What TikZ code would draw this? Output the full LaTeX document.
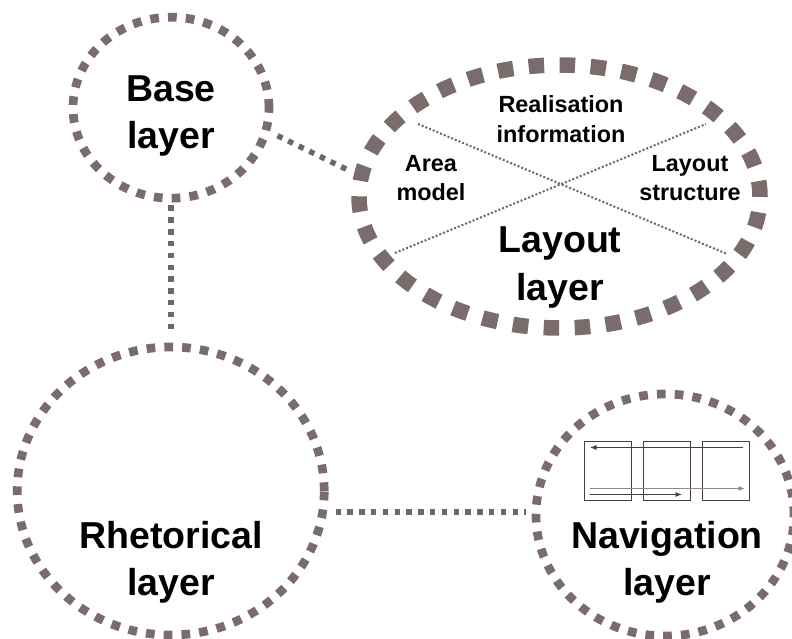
\documentclass[tikz,border=0pt]{standalone}
\usepackage{fontspec}
\setmainfont{Liberation Sans}
\usetikzlibrary{shapes.geometric,arrows.meta}
\definecolor{ringcol}{HTML}{7A6C6C}
\definecolor{linkcol}{HTML}{696969}
\definecolor{pagecol}{HTML}{4A3C3C}
\tikzset{
 x=1pt,y=-1pt,
 ring/.style={ellipse,draw=ringcol,inner sep=0pt,outer sep=0pt},
 smallring/.style={ring,line width=8.7pt,dash pattern=on 8.7pt off 9.1pt},
 bigring/.style={ring,line width=15.5pt,dash pattern=on 15.5pt off 15.5pt},
 link/.style={draw=linkcol,line width=5.5pt,dash pattern=on 5.5pt off 6.3pt},
 cross/.style={draw=linkcol,line width=2pt,dash pattern=on 2pt off 2pt},
 big/.style={font=\fontsize{37.5}{47.5}\selectfont\bfseries,align=center,inner sep=0pt},
 small/.style={font=\fontsize{23.4}{29.5}\selectfont\bfseries,align=center,inner sep=0pt},
 pagebox/.style={draw=pagecol,line width=0.9pt,minimum width=47pt,minimum height=59pt,inner sep=0pt},
 flow/.style={draw=#1,line width=0.7pt,-{Latex[length=6.5pt,width=5pt]}},
}
\begin{document}
\begin{tikzpicture}
\useasboundingbox (0,0) rectangle (792,639);
\begin{scope}
\clip (0,0) rectangle (792,639);
\node[smallring,minimum width=196pt,minimum height=181pt] (base) at (171,107.7) {};
\node[bigring,minimum width=401pt,minimum height=263pt] (layout) at (559.5,196.5) {};
\node[smallring,minimum width=307pt,minimum height=288pt] (rhet) at (170.7,491) {};
\node[smallring,minimum width=258pt,minimum height=242pt] (nav) at (665,515) {};
\end{scope}
\coordinate (bl1) at (277.5,135.7);
\coordinate (bl2) at (349,170.5);
\coordinate (br1) at (171,205.5);
\coordinate (br2) at (171,329.5);
\coordinate (rn1) at (335.5,512);
\coordinate (rn2) at (526,512);
\draw[link] (bl1) -- (bl2);
\draw[link] (br1) -- (br2);
\draw[link] (rn1) -- (rn2);
\coordinate (c1) at (418,124);
\coordinate (c2) at (727,254);
\coordinate (c3) at (395,253);
\coordinate (c4) at (706,124);
\draw[cross] (c1) -- (c2);
\draw[cross] (c3) -- (c4);
\node[big] (tb) at (171,116) {Base\\layer};
\node[big] (tl) at (560,267.5) {Layout\\layer};
\node[big] (tr) at (171,562.5) {Rhetorical\\layer};
\node[big] (tn) at (667,562.5) {Navigation\\layer};
\node[small] (ta) at (431,178) {Area\\model};
\node[small] (tq) at (561,119) {Realisation\\information};
\node[small] (ts) at (690,178) {Layout\\structure};
\node[pagebox] (p1) at (607.5,470.5) {};
\node[pagebox] (p2) at (666.5,470.5) {};
\node[pagebox] (p3) at (725.5,470.5) {};
\coordinate (a1) at (743,447.5);
\coordinate (a2) at (590,447.5);
\coordinate (a3) at (590,488.5);
\coordinate (a4) at (745,488.5);
\coordinate (a5) at (590,494.5);
\coordinate (a6) at (682,494.5);
\draw[flow=pagecol] (a1) -- (a2);
\draw[flow=black!45] (a3) -- (a4);
\draw[flow=pagecol] (a5) -- (a6);
\end{tikzpicture}
\end{document}
